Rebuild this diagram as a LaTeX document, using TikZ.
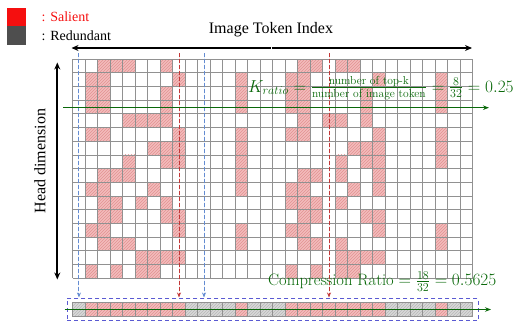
\documentclass[tikz,border=0pt]{standalone}
\usepackage{fontspec}
\usepackage{amsmath}
\newfontfamily\tnr{Liberation Serif}
\usetikzlibrary{arrows.meta,patterns}

\definecolor{salred}{RGB}{245,15,15}
\definecolor{redundgray}{RGB}{78,78,78}
\definecolor{cellpink}{RGB}{243,188,188}
\definecolor{hatchpink}{RGB}{226,146,146}
\definecolor{cellgray}{RGB}{216,216,216}
\definecolor{hatchgray}{RGB}{184,184,184}
\definecolor{gridline}{RGB}{145,145,145}
\definecolor{guideblue}{RGB}{100,140,210}
\definecolor{guidered}{RGB}{195,55,55}
\definecolor{boxblue}{RGB}{90,90,210}
\definecolor{ratiogreen}{RGB}{10,105,10}

\begin{document}
\begin{tikzpicture}[x=1pt,y=-1pt,
  salient/.style={preaction={fill=cellpink},pattern=north east lines,pattern color=hatchpink},
  redund/.style={preaction={fill=cellgray},pattern=north east lines,pattern color=hatchgray},
  gridln/.style={draw=gridline,line width=0.7pt},
  thickarrow/.style={line width=2.2pt,-{Stealth[length=7pt,width=6pt]}},
  guide/.style={line width=1pt,dash pattern=on 3.5pt off 2.5pt,-{Stealth[length=5pt,width=4pt]}},
  greenarrow/.style={draw=ratiogreen,line width=1.2pt,-{Stealth[length=6pt,width=4.5pt]}},
  greentext/.style={text=ratiogreen,inner sep=0pt,font=\fontsize{16.5}{19}\selectfont},
  legendtext/.style={anchor=west,inner sep=0pt,font=\tnr\fontsize{14}{16}\selectfont},
  axislabel/.style={inner sep=0pt,font=\tnr\fontsize{16}{18}\selectfont}]

\useasboundingbox (0,0) rectangle (528,322);

% legend
\fill[salred] (7.3,8.3) rectangle (26,25.5);
\fill[redundgray] (7.3,26) rectangle (26,45);
\node[legendtext,text=salred] (legS) at (41.5,16.5) {: Salient};
\node[legendtext] (legR) at (41.5,35.5) {: Redundant};

% axis labels and arrows
\node[axislabel] (tokidx) at (271,30) {Image Token Index};
\coordinate (tokmidL) at (270.5,48);
\coordinate (tokmidR) at (271.5,48);
\coordinate (tokL) at (71.5,48);
\coordinate (tokR) at (472,48);
\draw[thickarrow] (tokmidL) -- (tokL);
\draw[thickarrow] (tokmidR) -- (tokR);

\node[axislabel,rotate=90] (headdim) at (40,161) {Head dimension};
\coordinate (hdT) at (57.3,62.5);
\coordinate (hdB) at (57.3,279.5);
\draw[thickarrow,{Stealth[length=7pt,width=6pt]}-{Stealth[length=7pt,width=6pt]}] (hdT) -- (hdB);

% salient cells of the attention map (row / columns)
\foreach \r/\cols in {
  0/{2,3,4,7,18,19,21,22},
  1/{1,2,8,13,17,18,24,29},
  2/{1,2,7,13,17,18,23,29},
  3/{1,2,7,13,17,18,23,29},
  4/{4,5,6,7,18,20,21,23},
  5/{1,2,8,13,17,18,24,29},
  6/{6,7,8,13,22,23,24,29},
  7/{4,7,8,13,21,23,24,29},
  8/{2,3,4,13,18,19,21,24},
  9/{1,2,6,13,17,18,22,24},
  10/{2,3,5,7,17,18,19,21},
  11/{2,3,7,8,18,19,23,24},
  12/{1,2,8,13,17,18,24,29},
  13/{2,3,4,13,18,19,21,29},
  14/{5,6,7,8,21,22,23,24},
  15/{1,3,5,6,17,19,21,22}} {
  \foreach \c in \cols {
    \path[salient] ({72.7+12.5*\c},{59+13.7*\r}) rectangle ++(12.5,13.7);
  }
}

% grid
\foreach \i in {0,...,32}
  \draw[gridln] ({72.7+12.5*\i},59) -- ({72.7+12.5*\i},278.2);
\foreach \j in {0,...,16}
  \draw[gridln] (72.7,{59+13.7*\j}) -- (472.7,{59+13.7*\j});

% compressed token bar
\foreach \c in {0,9,10,11,12,14,15,16,25,26,27,28,30,31}
  \path[redund] ({72.7+12.5*\c},302) rectangle ++(12.5,14);
\foreach \c in {1,...,8,13,17,18,19,20,21,22,23,24,29}
  \path[salient] ({72.7+12.5*\c},302) rectangle ++(12.5,14);
\foreach \c in {0,...,31}
  \draw[gridln] ({72.7+12.5*\c},302) rectangle ++(12.5,14);

\node[draw=boxblue,line width=1pt,dash pattern=on 4pt off 3pt,inner sep=0pt,
      minimum width=410.7pt,minimum height=22.7pt] (barbox) at (272.65,309.6) {};

\coordinate (barL) at (64.5,309.5);
\coordinate (barR) at (491,309.5);
\draw[greenarrow] (barL) -- (barR);

% guides from token columns down to the bar
\foreach \nm/\x/\col in {gA/78.95/guideblue,gB/179.0/guidered,gC/204.0/guideblue,gD/329.0/guidered} {
  \coordinate (\nm top) at (\x,53);
  \coordinate (\nm end) at (\x,297.5);
  \draw[guide,draw=\col,fill=\col] (\nm top) -- (\nm end);
}

% ratio annotations
\coordinate (rowL) at (63,107.7);
\coordinate (rowR) at (489,107.7);
\draw[greenarrow] (rowL) -- (rowR);

\node[greentext,anchor=west] (kratio) at (248,88.3)
  {$K_{ratio}=\frac{\text{number of top-k}}{\text{number of image token}}=\frac{8}{32}=0.25$};
\node[greentext,anchor=west] (cratio) at (268,281.7)
  {$\text{Compression Ratio}=\frac{18}{32}=0.5625$};

\end{tikzpicture}
\end{document}
